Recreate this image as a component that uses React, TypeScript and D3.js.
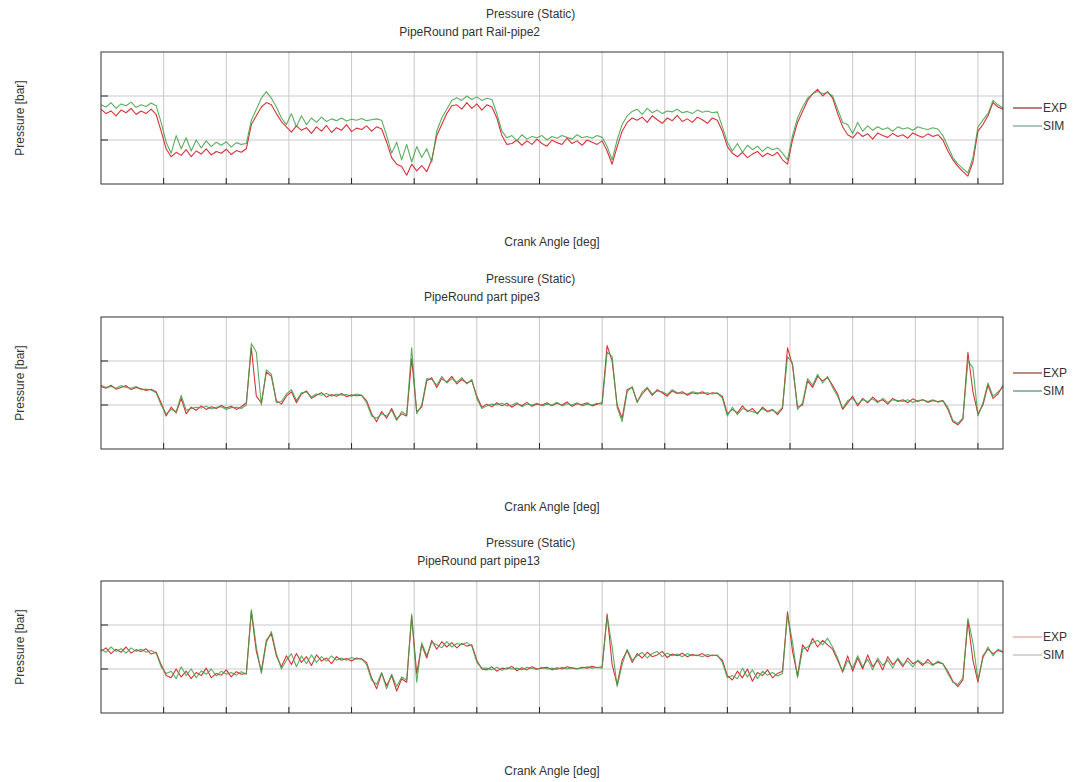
import React, { useEffect, useRef } from 'react';
import * as d3 from 'd3';

// crank angle sampling, 4 deg steps over one 720 deg cycle
const angles: number[] = d3.range(0, 721, 4);

const xTicks = [50, 100, 150, 200, 250, 300, 350, 400, 450, 500, 550, 600, 650, 700];
const yTicks = [1, 2];

const railExp = [
  1.70, 1.60, 1.66, 1.55, 1.68, 1.62, 1.72, 1.58, 1.66, 1.60, 1.70, 1.58,
  1.20, 0.80, 0.62, 0.72,
  0.65, 0.78, 0.62, 0.75, 0.68, 0.80, 0.66, 0.74, 0.70, 0.79, 0.67, 0.76, 0.72, 0.80,
  1.35, 1.55, 1.75, 1.85, 1.80, 1.60, 1.42, 1.30,
  1.18, 1.32, 1.22, 1.28, 1.15, 1.30, 1.20, 1.33, 1.17, 1.28, 1.22, 1.35, 1.19, 1.27, 1.24, 1.32, 1.20, 1.30,
  1.25, 0.95, 0.60, 0.45,
  0.40, 0.20, 0.45, 0.30, 0.42, 0.28,
  0.55, 1.10, 1.35, 1.60, 1.78,
  1.80, 1.70, 1.85, 1.72, 1.82, 1.68, 1.80, 1.75,
  1.50, 1.10, 0.90,
  0.92, 1.00, 0.88, 0.98, 0.90, 1.02, 0.92, 0.86, 1.00, 0.94, 0.90, 1.04, 0.92, 0.98, 0.88, 1.00, 0.95, 0.90, 0.98,
  0.75, 0.45, 0.85, 1.20, 1.40, 1.50,
  1.45, 1.52, 1.40, 1.55, 1.46, 1.38, 1.50, 1.44, 1.56, 1.42, 1.48, 1.40, 1.52, 1.46, 1.38, 1.50, 1.45,
  1.20, 0.85,
  0.70, 0.62, 0.72, 0.60, 0.68, 0.74, 0.62, 0.70, 0.64, 0.72, 0.55,
  0.45, 1.00, 1.40, 1.65, 1.90, 2.05, 2.15, 2.00, 2.10, 1.95,
  1.60, 1.30,
  1.12, 1.05, 1.18, 1.08, 1.14, 1.02, 1.16, 1.10, 1.06, 1.15, 1.08, 1.12, 1.04, 1.16, 1.10, 1.06, 1.14, 1.08, 1.12,
  1.00, 0.75, 0.55, 0.40, 0.28, 0.18, 0.50, 1.20, 1.35, 1.55, 1.85, 1.75, 1.70,
];

const railSim = [
  1.80, 1.75, 1.85, 1.72, 1.82, 1.78, 1.86, 1.74, 1.80, 1.76, 1.84, 1.78,
  1.40, 0.95, 0.70, 1.10,
  0.80, 1.05, 0.75, 1.00, 0.82, 0.98, 0.85, 0.95, 0.88, 0.96, 0.84, 0.94, 0.90, 0.92,
  1.45, 1.70, 1.95, 2.10, 1.95, 1.75, 1.50, 1.35,
  1.60, 1.30, 1.55, 1.35, 1.50, 1.40, 1.52, 1.42, 1.48, 1.44, 1.50, 1.43, 1.47, 1.45, 1.49, 1.44, 1.46, 1.48,
  1.45, 1.10, 0.70, 0.95,
  0.55, 0.90, 0.50, 0.85, 0.60, 0.80,
  0.50, 1.20, 1.50, 1.70, 1.90,
  1.96, 1.90, 2.00, 1.92, 1.98, 1.90, 1.95, 1.92,
  1.60, 1.20, 1.05,
  1.10, 0.98, 1.12, 1.02, 1.08, 1.05, 1.10, 1.00, 1.08, 1.04, 1.10, 1.06, 1.02, 1.12, 1.05, 1.08, 1.04, 1.10, 1.06,
  0.85, 0.55, 1.00, 1.35, 1.55, 1.65,
  1.70, 1.58, 1.72, 1.62, 1.68, 1.60, 1.66, 1.64, 1.70, 1.62, 1.65, 1.60, 1.68, 1.63, 1.66, 1.62, 1.64,
  1.30, 0.95,
  0.75, 0.92, 0.72, 0.88, 0.78, 0.86, 0.74, 0.84, 0.78, 0.82, 0.70,
  0.55, 1.10, 1.50, 1.75, 1.95, 2.05, 2.10, 2.05, 2.08, 2.00,
  1.70, 1.40,
  1.35, 1.15, 1.40, 1.20, 1.32, 1.22, 1.30, 1.24, 1.28, 1.20, 1.30, 1.25, 1.28, 1.22, 1.30, 1.26, 1.24, 1.28, 1.25,
  1.10, 0.85, 0.60, 0.45, 0.35, 0.25, 0.60, 1.30, 1.45, 1.60, 1.90, 1.80, 1.72,
];

const pipe3Exp = [
  1.42, 1.38, 1.45, 1.36, 1.40, 1.44, 1.35, 1.40, 1.37, 1.33, 1.36,
  1.30, 1.05, 0.75, 0.95, 0.82, 1.15, 0.80,
  0.95, 0.88, 0.98, 0.90, 0.96, 0.92, 0.99, 0.93, 0.97, 0.90, 0.96,
  1.05, 2.30, 1.20, 1.05, 1.75, 1.65, 1.10, 1.02,
  1.20, 1.30, 1.05, 1.25, 1.32, 1.15, 1.22, 1.28, 1.18, 1.24, 1.20, 1.26, 1.19, 1.23, 1.21, 1.22,
  1.10, 0.80, 0.62, 0.85, 0.70, 0.92, 0.68, 0.80, 0.75,
  2.05, 0.85, 0.95, 1.55, 1.62, 1.40, 1.60, 1.52, 1.65, 1.48, 1.58, 1.50, 1.55, 1.20, 0.95,
  1.02, 0.96, 1.05, 0.98, 1.04, 0.95, 1.03, 0.99, 1.06, 0.97, 1.02, 1.00,
  1.05, 0.98, 1.04, 1.00, 1.07, 0.97, 1.03, 1.01, 1.05, 0.98, 1.02,
  1.05, 2.35, 2.00, 1.00, 0.70, 1.35, 1.40, 1.08,
  1.25, 1.38, 1.22, 1.35, 1.28, 1.20, 1.32, 1.26, 1.30, 1.22, 1.28, 1.25, 1.30, 1.24, 1.28, 1.26,
  1.20, 0.80,
  0.90, 0.82, 0.98, 0.85, 0.92, 0.80, 0.95, 0.86, 0.90, 0.78, 0.92,
  2.30, 1.90, 0.95, 1.00, 1.55, 1.40, 1.65, 1.55, 1.62, 1.45, 1.25, 0.90,
  1.05, 1.20, 0.98, 1.15, 1.05, 1.18, 1.08, 1.12, 1.02, 1.15, 1.08, 1.12, 1.05, 1.14, 1.08, 1.12, 1.06, 1.10, 1.08, 1.10,
  0.90, 0.62, 0.55, 0.68, 2.20, 1.30, 0.80, 1.00, 1.45, 1.15, 1.25, 1.45,
];

const pipe3Sim = [
  1.45, 1.40, 1.42, 1.38, 1.44, 1.40, 1.38, 1.42, 1.35, 1.36, 1.34,
  1.28, 1.00, 0.80, 0.90, 0.85, 1.22, 0.88,
  0.92, 0.95, 0.93, 0.97, 0.91, 0.95, 0.96, 0.90, 0.94, 0.95, 0.92,
  1.00, 2.40, 2.20, 1.00, 1.80, 1.70, 1.05, 1.08,
  1.25, 1.35, 1.10, 1.28, 1.30, 1.18, 1.25, 1.22, 1.26, 1.20, 1.25, 1.22, 1.24, 1.20, 1.25, 1.22,
  1.05, 0.75, 0.70, 0.80, 0.75, 0.88, 0.65, 0.85, 0.78,
  2.30, 0.80, 1.00, 1.60, 1.58, 1.45, 1.65, 1.50, 1.60, 1.52, 1.62, 1.48, 1.58, 1.15, 0.92,
  0.98, 1.02, 1.00, 1.04, 0.98, 1.00, 1.05, 0.96, 1.02, 1.00, 1.04, 0.98,
  1.02, 1.00, 1.06, 0.98, 1.03, 1.00, 1.05, 0.98, 1.02, 1.00, 1.04,
  1.02, 2.20, 2.10, 0.95, 0.62, 1.30, 1.42, 1.05,
  1.30, 1.40, 1.25, 1.32, 1.30, 1.24, 1.35, 1.28, 1.26, 1.25, 1.30, 1.28, 1.26, 1.28, 1.25, 1.28,
  1.15, 0.75,
  0.95, 0.78, 0.92, 0.88, 0.85, 0.82, 0.92, 0.84, 0.88, 0.82, 0.95,
  2.10, 1.95, 0.90, 1.05, 1.60, 1.45, 1.70, 1.50, 1.65, 1.40, 1.20, 0.92,
  1.10, 1.15, 1.02, 1.12, 1.08, 1.14, 1.05, 1.15, 1.06, 1.12, 1.10, 1.08, 1.12, 1.06, 1.10, 1.12, 1.08, 1.12, 1.06, 1.10,
  0.95, 0.65, 0.58, 0.70, 2.00, 1.85, 0.75, 1.05, 1.50, 1.20, 1.30, 1.40,
];

const pipe13Exp = [
  1.40, 1.48, 1.35, 1.45, 1.38, 1.50, 1.36, 1.44, 1.40, 1.46, 1.34, 1.38,
  1.10, 0.85,
  0.80, 1.00, 0.82, 0.95, 0.78, 0.92, 0.85, 1.02, 0.80, 0.90, 0.86, 0.98, 0.82, 0.94, 0.88,
  0.90, 2.30, 1.40, 0.95, 1.65, 1.80, 1.30, 1.05,
  1.30, 1.10, 1.35, 1.15, 1.28, 1.08, 1.32, 1.18, 1.25, 1.12, 1.28, 1.20, 1.24, 1.18, 1.25, 1.22,
  1.15, 0.80,
  0.55, 0.90, 0.62, 0.85, 0.50, 0.78, 0.70,
  2.20, 0.90, 1.55, 1.25, 1.65,
  1.45, 1.62, 1.50, 1.60, 1.48, 1.58, 1.52, 1.55,
  1.20, 1.00,
  0.98, 1.05, 0.95, 1.02, 1.00, 1.06, 0.96, 1.03, 0.98, 1.05, 1.00, 1.02, 1.04, 0.98, 1.03, 1.00, 1.05, 1.02, 1.00, 1.04, 1.02, 1.06, 1.03,
  1.05, 2.25, 1.10, 0.65, 1.20, 1.42, 1.15,
  1.35, 1.25, 1.38, 1.28, 1.32, 1.40, 1.26, 1.34, 1.30, 1.36, 1.28, 1.33, 1.30, 1.35, 1.28, 1.32, 1.30,
  1.20, 0.85,
  0.75, 0.95, 0.80, 1.00, 0.72, 0.92, 0.85, 0.98, 0.80, 0.90, 0.95,
  2.30, 1.40, 0.85, 1.55, 1.40, 1.70, 1.50, 1.65, 1.55, 1.45, 1.20, 0.95,
  1.30, 0.95, 1.25, 1.00, 1.32, 1.05, 1.20, 0.98, 1.28, 1.10, 1.22, 1.05, 1.25, 1.12, 1.18, 1.08, 1.22, 1.10, 1.15, 1.12,
  0.95, 0.72, 0.60, 0.75, 2.10, 1.20, 0.70, 1.30, 1.45, 1.35, 1.42, 1.38,
];

const pipe13Sim = [
  1.45, 1.38, 1.50, 1.40, 1.46, 1.36, 1.48, 1.40, 1.45, 1.38, 1.42, 1.36,
  1.05, 0.90,
  0.95, 0.78, 1.05, 0.85, 1.00, 0.80, 0.96, 0.88, 1.00, 0.84, 0.95, 0.88, 0.92, 0.86, 0.94,
  0.88, 2.35, 1.50, 0.90, 1.60, 1.85, 1.35, 1.00,
  1.20, 1.35, 1.05, 1.30, 1.12, 1.32, 1.15, 1.28, 1.18, 1.30, 1.20, 1.25, 1.20, 1.26, 1.22, 1.24,
  1.10, 0.75,
  0.65, 0.92, 0.55, 0.88, 0.60, 0.82, 0.75,
  2.25, 0.70, 1.60, 1.30, 1.60,
  1.55, 1.48, 1.62, 1.50, 1.58, 1.55, 1.60, 1.52,
  1.15, 1.02,
  1.02, 0.98, 1.04, 0.97, 1.03, 1.00, 1.02, 0.98, 1.04, 1.01, 0.99, 1.04, 1.00, 1.02, 0.99, 1.04, 1.00, 1.03, 1.01, 1.02, 1.05, 1.02, 1.04,
  1.02, 2.20, 1.50, 0.60, 1.10, 1.45, 1.20,
  1.30, 1.38, 1.25, 1.35, 1.40, 1.28, 1.36, 1.30, 1.34, 1.28, 1.35, 1.30, 1.32, 1.28, 1.33, 1.30, 1.32,
  1.15, 0.80,
  0.85, 0.78, 1.02, 0.82, 0.98, 0.78, 0.95, 0.86, 0.92, 0.84, 0.90,
  2.25, 1.60, 0.80, 1.45, 1.50, 1.60, 1.65, 1.55, 1.70, 1.50, 1.25, 0.92,
  1.20, 1.02, 1.30, 1.05, 1.22, 0.98, 1.25, 1.08, 1.20, 1.02, 1.25, 1.10, 1.18, 1.05, 1.20, 1.12, 1.15, 1.08, 1.18, 1.12,
  0.90, 0.70, 0.65, 0.80, 2.15, 1.60, 0.75, 1.25, 1.50, 1.30, 1.45, 1.40,
];

const panels = [
  { sub: 'PipeRound part Rail-pipe2', top: 52, exp: railExp, sim: railSim, legExp: '#8e2626', legSim: '#6f9f86' },
  { sub: 'PipeRound part pipe3', top: 317, exp: pipe3Exp, sim: pipe3Sim, legExp: '#8a3c2c', legSim: '#4f8f73' },
  { sub: 'PipeRound part pipe13', top: 581, exp: pipe13Exp, sim: pipe13Sim, legExp: '#e0a090', legSim: '#b8b8b8' },
];

const App: React.FC = () => {
  const svgRef = useRef<SVGSVGElement>(null);

  useEffect(() => {
    if (!svgRef.current) return;
    const svg = d3.select(svgRef.current);
    svg.selectAll('*').remove();

    const left = 101;
    const right = 1003;
    const plotH = 132;
    const font = "'Liberation Sans', Arial, sans-serif";

    const x = d3.scaleLinear().domain([0, 720]).range([left, right]);

    panels.forEach((p) => {
      const bottom = p.top + plotH;
      const y = d3.scaleLinear().domain([0, 3]).range([bottom, p.top]);
      const g = svg.append('g');

      // grid
      g.selectAll('.vgrid')
        .data(xTicks)
        .enter()
        .append('line')
        .attr('x1', (d) => x(d))
        .attr('x2', (d) => x(d))
        .attr('y1', p.top)
        .attr('y2', bottom)
        .attr('stroke', '#c9c9c9')
        .attr('stroke-width', 1);
      g.selectAll('.hgrid')
        .data(yTicks)
        .enter()
        .append('line')
        .attr('x1', left)
        .attr('x2', right)
        .attr('y1', (d) => y(d))
        .attr('y2', (d) => y(d))
        .attr('stroke', '#c9c9c9')
        .attr('stroke-width', 1);

      // series
      const line = d3
        .line<number>()
        .x((_, i) => x(angles[i]))
        .y((d) => y(d));
      g.append('path')
        .datum(p.exp.slice(0, angles.length))
        .attr('d', line)
        .attr('fill', 'none')
        .attr('stroke', '#d8323a')
        .attr('stroke-width', 1.1)
        .attr('stroke-linejoin', 'round');
      g.append('path')
        .datum(p.sim.slice(0, angles.length))
        .attr('d', line)
        .attr('fill', 'none')
        .attr('stroke', '#3f9f45')
        .attr('stroke-width', 1.1)
        .attr('stroke-opacity', 0.85)
        .attr('stroke-linejoin', 'round');

      // frame and tick marks
      g.append('rect')
        .attr('x', left)
        .attr('y', p.top)
        .attr('width', right - left)
        .attr('height', plotH)
        .attr('fill', 'none')
        .attr('stroke', '#333')
        .attr('stroke-width', 1);
      g.selectAll('.xtick')
        .data(xTicks)
        .enter()
        .append('line')
        .attr('x1', (d) => x(d))
        .attr('x2', (d) => x(d))
        .attr('y1', bottom)
        .attr('y2', bottom - 6)
        .attr('stroke', '#222');
      g.selectAll('.ytick')
        .data(yTicks)
        .enter()
        .append('line')
        .attr('x1', left)
        .attr('x2', left + 7)
        .attr('y1', (d) => y(d))
        .attr('y2', (d) => y(d))
        .attr('stroke', '#222');

      // titles
      g.append('text')
        .attr('x', 486)
        .attr('y', p.top - 34)
        .attr('font-family', font)
        .attr('font-size', 12)
        .attr('fill', '#333')
        .text('Pressure (Static)');
      g.append('text')
        .attr('x', 540)
        .attr('y', p.top - 16)
        .attr('text-anchor', 'end')
        .attr('font-family', font)
        .attr('font-size', 12)
        .attr('fill', '#333')
        .text(p.sub);

      // axis labels
      g.append('text')
        .attr('x', (left + right) / 2)
        .attr('y', bottom + 62)
        .attr('text-anchor', 'middle')
        .attr('font-family', font)
        .attr('font-size', 12)
        .attr('fill', '#333')
        .text('Crank Angle [deg]');
      g.append('text')
        .attr('transform', `translate(24,${p.top + plotH / 2}) rotate(-90)`)
        .attr('text-anchor', 'middle')
        .attr('font-family', font)
        .attr('font-size', 12)
        .attr('fill', '#333')
        .text('Pressure [bar]');

      // legend
      const leg = [
        { name: 'EXP', color: p.legExp, dy: 56 },
        { name: 'SIM', color: p.legSim, dy: 74 },
      ];
      leg.forEach((l) => {
        g.append('line')
          .attr('x1', 1013)
          .attr('x2', 1042)
          .attr('y1', p.top + l.dy)
          .attr('y2', p.top + l.dy)
          .attr('stroke', l.color)
          .attr('stroke-width', 1.2);
        g.append('text')
          .attr('x', 1043)
          .attr('y', p.top + l.dy + 4)
          .attr('font-family', font)
          .attr('font-size', 12)
          .attr('fill', '#333')
          .text(l.name);
      });
    });
  }, []);

  return (
    <svg
      ref={svgRef}
      width={1081}
      height={782}
      style={{ position: 'absolute', left: 0, top: 0, background: '#fff' }}
    />
  );
};

export default App;
